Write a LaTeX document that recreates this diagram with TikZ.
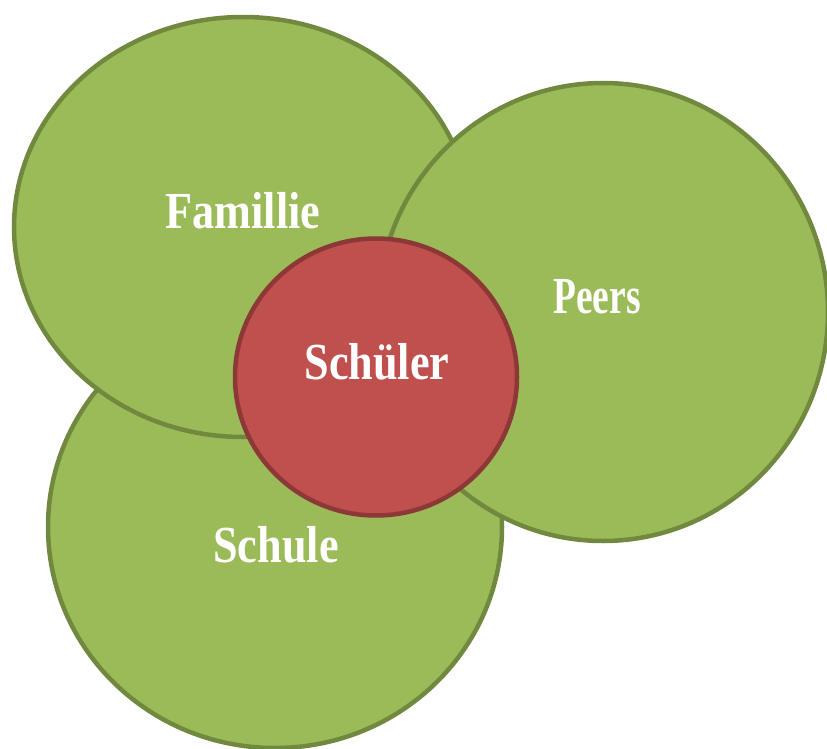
\documentclass[tikz,border=0pt]{standalone}
\usepackage{fontspec}
\newfontfamily\tagfont[FakeStretch=0.85]{Liberation Serif}
\newfontfamily\narrowtagfont[FakeStretch=0.72]{Liberation Serif}
\usepackage{tikz}
\usetikzlibrary{
	positioning
}
\definecolor{ringfill}{HTML}{9BBB59}
\definecolor{ringline}{HTML}{71893F}
\definecolor{corefill}{HTML}{C0504D}
\definecolor{coreline}{HTML}{8C3836}
\tikzset{
	ring/.style={fill=ringfill,draw=ringline,line width=4.5pt},
	core/.style={fill=corefill,draw=coreline,line width=4.5pt},
	tag/.style={text=white,anchor=base,inner sep=0pt,
		font=\tagfont\bfseries\fontsize{52}{52}\selectfont}
}

\begin{document}
\begin{tikzpicture}[x=1pt,y=-1pt]
		\useasboundingbox (0,0) rectangle (827,749);

		% circles, back to front
		\path[ring] (275,527) ellipse (227 and 221);
		\path[ring] (243,227) ellipse (229 and 210);
		\path[ring] (603,312) ellipse (225 and 229);
		\path[core] (376,377) ellipse (141 and 138.5);

		\draw
			node[tag] at (276,562) (schule)   {Schule}
			node[tag] at (243,228) (familie)  {Famillie}
			node[tag,font=\narrowtagfont\bfseries\fontsize{52}{52}\selectfont]
			          at (597,313) (peers)    {Peers}
			node[tag] at (377,379) (schueler) {Schüler}
		;
	\end{tikzpicture}
\end{document}
